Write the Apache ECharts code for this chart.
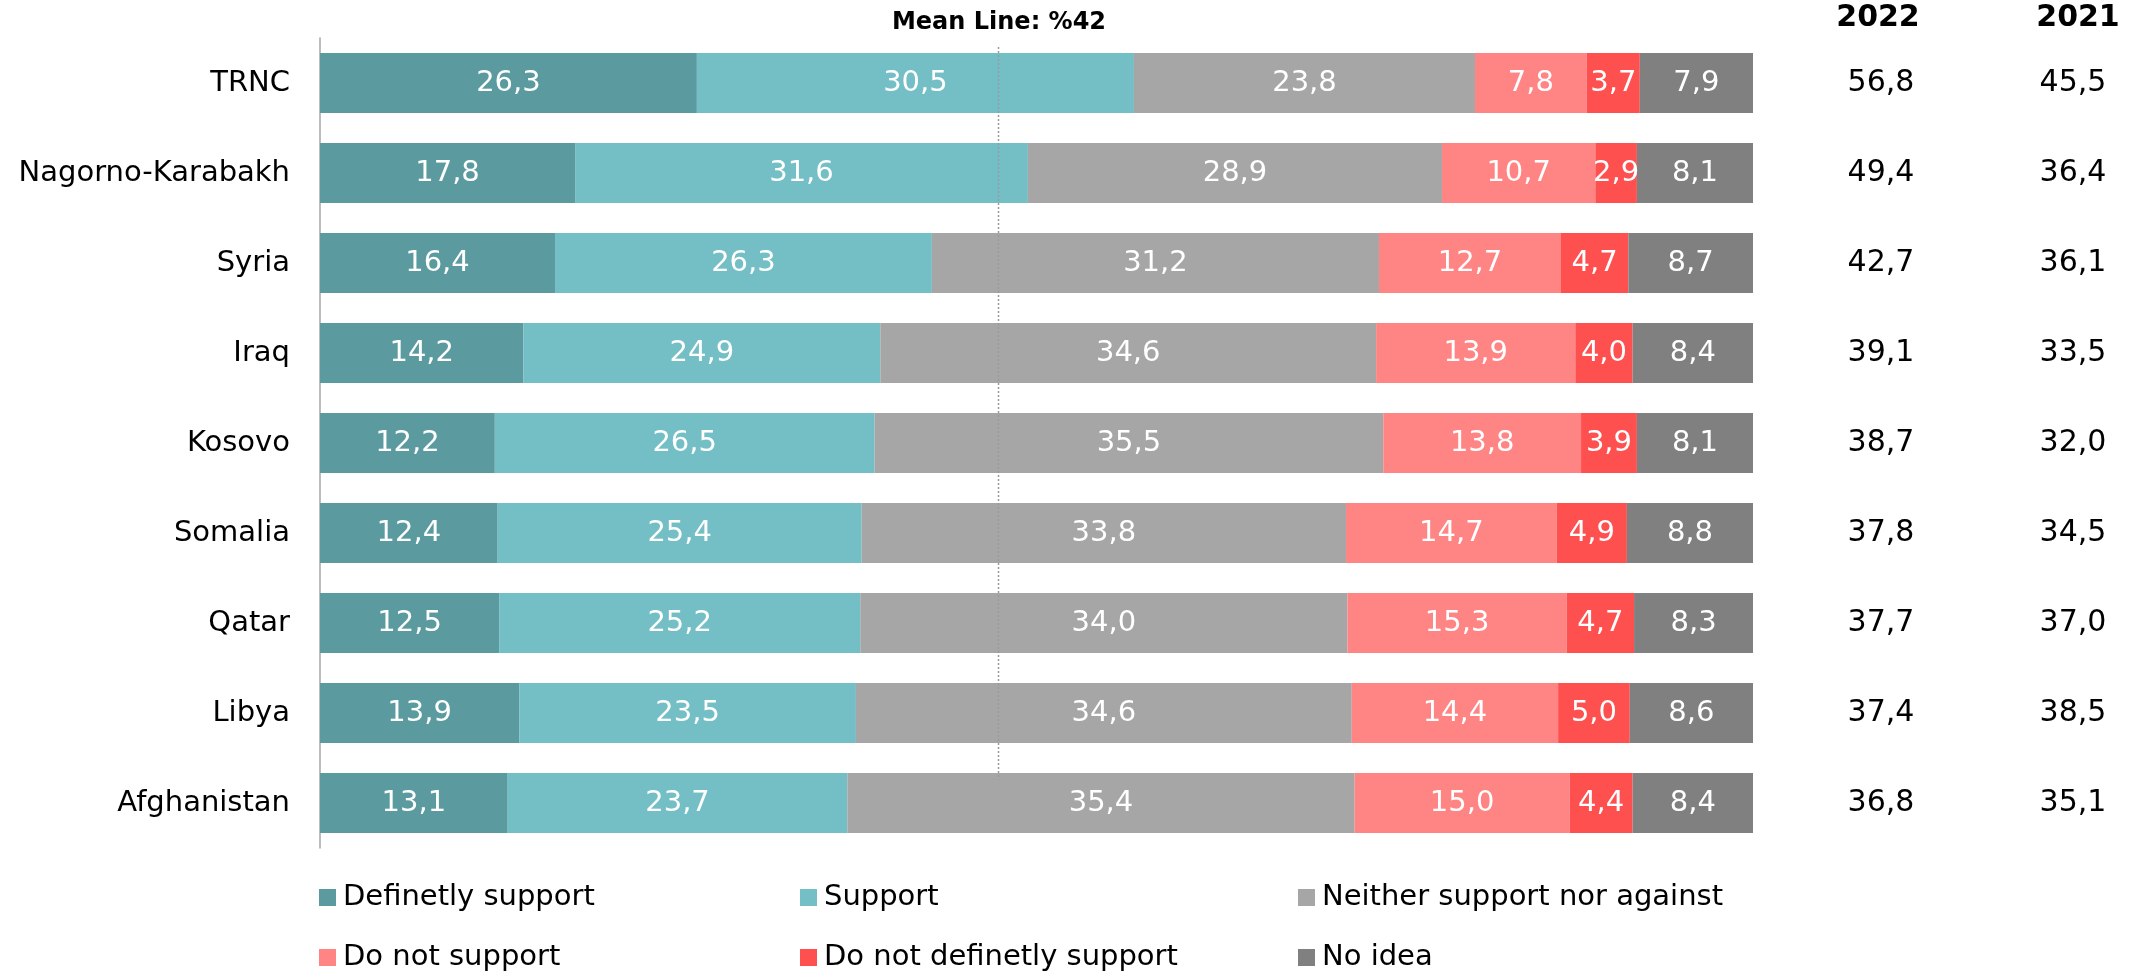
<!DOCTYPE html>
<html>
<head>
<meta charset="utf-8">
<script src="https://cdn.jsdelivr.net/npm/echarts@6/dist/echarts.min.js"></script>
<style>
  html, body { margin: 0; padding: 0; background: #fff; }
  #chart { width: 2152px; height: 980px; }
</style>
</head>
<body>
<div id="chart"></div>
<script>
var countries = ['TRNC', 'Nagorno-Karabakh', 'Syria', 'Iraq', 'Kosovo', 'Somalia', 'Qatar', 'Libya', 'Afghanistan'];
var seriesNames = ['Definetly support', 'Support', 'Neither support nor against', 'Do not support', 'Do not definetly support', 'No idea'];
var colors = ['#5b9ba0', '#74bfc5', '#a6a6a6', '#ff8585', '#ff5050', '#808080'];

var definetlySupport = [26.3, 17.8, 16.4, 14.2, 12.2, 12.4, 12.5, 13.9, 13.1];
var support = [30.5, 31.6, 26.3, 24.9, 26.5, 25.4, 25.2, 23.5, 23.7];
var neither = [23.8, 28.9, 31.2, 34.6, 35.5, 33.8, 34.0, 34.6, 35.4];
var doNotSupport = [7.8, 10.7, 12.7, 13.9, 13.8, 14.7, 15.3, 14.4, 15.0];
var doNotDefinetly = [3.7, 2.9, 4.7, 4.0, 3.9, 4.9, 4.7, 5.0, 4.4];
var noIdea = [7.9, 8.1, 8.7, 8.4, 8.1, 8.8, 8.3, 8.6, 8.4];

var years = ['2022', '2021'];
var total2022 = [56.8, 49.4, 42.7, 39.1, 38.7, 37.8, 37.7, 37.4, 36.8];
var total2021 = [45.5, 36.4, 36.1, 33.5, 32.0, 34.5, 37.0, 38.5, 35.1];

// mean line position on the bar scale, and its vertical extent in row units
var meanLabel = 'Mean Line: %42';
var meanX = 47.35;
var meanSpan = [0.1, 8.24];

var values = [definetlySupport, support, neither, doNotSupport, doNotDefinetly, noIdea];
var font = 'DejaVu Sans';

function fmt(v) {
    return v.toFixed(1).replace('.', ',');
}

var chart = echarts.init(document.getElementById('chart'));

var series = seriesNames.map(function (name, i) {
    return {
        name: name,
        type: 'bar',
        stack: 'total',
        barWidth: 60,
        xAxisIndex: 0,
        yAxisIndex: 0,
        itemStyle: { color: colors[i] },
        label: {
            show: true,
            position: 'inside',
            color: '#fff',
            fontFamily: font,
            fontSize: 29,
            formatter: function (p) { return fmt(p.value); }
        },
        data: values[i]
    };
});

series.push({
    name: 'mean',
    type: 'line',
    xAxisIndex: 0,
    yAxisIndex: 3,
    symbol: 'none',
    z: 10,
    silent: true,
    lineStyle: { color: '#9a9a9a', width: 1.5, type: [2, 2] },
    data: [[meanX, meanSpan[0]], [meanX, meanSpan[1]]]
});

// legend: 3 columns x 2 rows, one legend per item
var legendLeft = [319, 800, 1298];
var legendTop = [883, 943];
var legends = seriesNames.map(function (name, i) {
    return {
        left: legendLeft[i % 3],
        top: legendTop[Math.floor(i / 3)],
        padding: 0,
        icon: 'rect',
        itemWidth: 17,
        itemHeight: 17,
        selectedMode: false,
        textStyle: { fontFamily: font, fontSize: 29, color: '#000', padding: [0, 0, 0, 2] },
        data: [name]
    };
});

var option = {
    animation: false,
    backgroundColor: '#fff',
    grid: { left: 320, right: 399, top: 38, height: 810 },
    legend: legends,
    xAxis: {
        type: 'value',
        min: 0,
        max: 100,
        show: false
    },
    yAxis: [
        {
            type: 'category',
            inverse: true,
            data: countries,
            axisLine: { lineStyle: { color: '#a6a6a6', width: 1.5 } },
            axisTick: { length: 10, lineStyle: { color: '#a6a6a6', width: 1.5 } },
            axisLabel: { margin: 30, fontFamily: font, fontSize: 29, color: '#000' }
        },
        {
            type: 'category',
            inverse: true,
            position: 'right',
            offset: 0,
            data: countries,
            axisLine: { show: false },
            axisTick: { show: false },
            axisLabel: {
                margin: 128, align: 'center', fontFamily: font, fontSize: 30, color: '#000',
                formatter: function (v, i) { return fmt(total2022[i]); }
            }
        },
        {
            type: 'category',
            inverse: true,
            position: 'right',
            offset: 0,
            data: countries,
            axisLine: { show: false },
            axisTick: { show: false },
            axisLabel: {
                margin: 320, align: 'center', fontFamily: font, fontSize: 30, color: '#000',
                formatter: function (v, i) { return fmt(total2021[i]); }
            }
        },
        {
            type: 'value',
            min: 0,
            max: 9,
            inverse: true,
            show: false
        }
    ],
    graphic: [
        {
            type: 'text', x: 999, y: 23,
            style: { text: meanLabel, fill: '#000', font: 'bold 24px "DejaVu Sans"', textAlign: 'center', textVerticalAlign: 'middle' }
        },
        {
            type: 'text', x: 1878, y: 18,
            style: { text: years[0], fill: '#000', font: 'bold 30px "DejaVu Sans"', textAlign: 'center', textVerticalAlign: 'middle' }
        },
        {
            type: 'text', x: 2078, y: 18,
            style: { text: years[1], fill: '#000', font: 'bold 30px "DejaVu Sans"', textAlign: 'center', textVerticalAlign: 'middle' }
        }
    ],
    series: series
};

chart.setOption(option);
</script>
</body>
</html>
